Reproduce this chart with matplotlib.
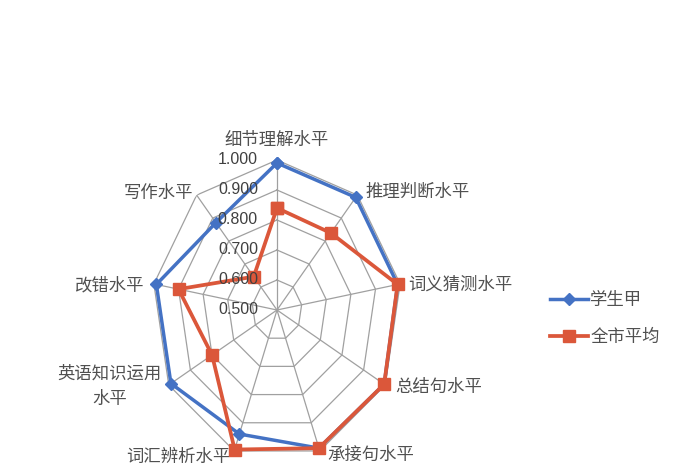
import numpy as np
import matplotlib
matplotlib.use('Agg')
import matplotlib.pyplot as plt
from matplotlib.transforms import offset_copy

plt.rcParams['font.family'] = ['Noto Sans CJK SC', 'DejaVu Sans']

# data
categories = ['细节理解水平', '推理判断水平', '词义猜测水平', '总结句水平', '承接句水平',
              '词汇辨析水平', '英语知识运用\n水平', '改错水平', '写作水平']
student = [0.99, 0.99, 0.99, 0.995, 0.99, 0.94, 0.99, 0.99, 0.88]
city_avg = [0.84, 0.835, 0.99, 0.995, 0.99, 0.995, 0.80, 0.90, 0.645]
series_names = ['学生甲', '全市平均']
r_ticks = [0.5, 0.6, 0.7, 0.8, 0.9, 1.0]
r_tick_labels = ['0.500', '0.600', '0.700', '0.800', '0.900', '1.000']

# label offsets (px) from the outer vertex, plus alignment
label_offsets = [(0, 20, 'center'), (8, 3, 'left'), (8, -1, 'left'), (10, -2, 'left'),
                 (8, -4, 'left'), (-4, -6, 'right'), (-7, -1, 'right'),
                 (-9, -1, 'right'), (-4, 2, 'right')]

blue = '#4472C4'
red = '#DB573A'
grid_c = '#A0A0A0'
txt_c = '#505050'

n = len(categories)
angles = np.arange(n) * 2 * np.pi / n
closed = np.append(angles, angles[0])

fig = plt.figure(figsize=(7, 4.7), dpi=100)
# radar is squashed horizontally in the reference
ax = fig.add_axes([(277 - 125) / 700, 10 / 470, 250 / 700, 300 / 470], projection='polar')
ax.set_aspect('auto')
ax.set_theta_offset(np.pi / 2)
ax.set_theta_direction(-1)
ax.set_ylim(0.5, 1.0)
ax.grid(False)
ax.set_xticks([])
ax.set_yticks([])
ax.spines['polar'].set_visible(False)
ax.patch.set_alpha(0)

# polygon grid
for v in r_ticks[1:]:
    ax.plot(closed, [v] * (n + 1), color=grid_c, lw=0.9, zorder=1)
for a in angles:
    ax.plot([a, a], [0.5, 1.0], color=grid_c, lw=0.9, zorder=1)

ax.plot(closed, student + student[:1], color=blue, lw=2.5, marker='D', ms=6.5,
        label=series_names[0], zorder=3, clip_on=False)
ax.plot(closed, city_avg + city_avg[:1], color=red, lw=2.7, marker='s', ms=9,
        label=series_names[1], zorder=4, clip_on=False)

# radial tick labels
tr = offset_copy(ax.transData, fig=fig, x=-19, y=0, units='dots')
for v, s in zip(r_ticks, r_tick_labels):
    ax.text(0, v, s, transform=tr, ha='right', va='center', fontsize=11.5,
            family=['Liberation Sans', 'DejaVu Sans'], color='#404040', zorder=5)

# category labels
for a, lab, (dx, dy, ha) in zip(angles, categories, label_offsets):
    t = offset_copy(ax.transData, fig=fig, x=dx, y=dy, units='dots')
    ax.text(a, 1.0, lab, transform=t, ha=ha, va='center', fontsize=12.5,
            color=txt_c, multialignment='center', linespacing=1.5)

fig.legend(loc='upper left', bbox_to_anchor=(0.774, 0.40), frameon=False,
           borderpad=0, handlelength=2.15, handletextpad=0.15, labelspacing=1.1,
           prop={'size': 12.5}, labelcolor=txt_c)

fig.savefig('out.png', dpi=100)
